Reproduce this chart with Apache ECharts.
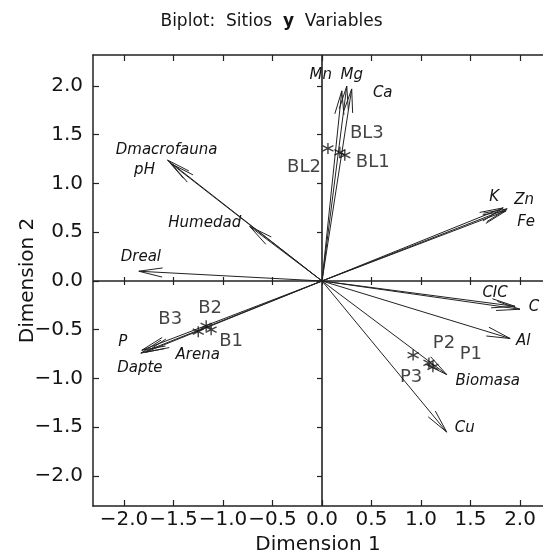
<!DOCTYPE html>
<html>
<head>
<meta charset="utf-8">
<script src="https://cdn.jsdelivr.net/npm/echarts@6/dist/echarts.min.js"></script>
<style>html,body{margin:0;padding:0;background:#fff}#c{width:543px;height:556px}</style>
</head>
<body>
<div id="c"></div>
<script>
// ---- data ----
const varNames = ['Mn','Mg','Ca','K','Zn','Fe','Dmacrofauna','pH','Humedad','Dreal','P','Dapte','Arena','CIC','C','Al','Biomasa','Cu'];
const varDim1  = [0.20, 0.25, 0.30, 1.83, 1.87, 1.86, -1.56, -1.52, -0.73, -1.85, -1.82, -1.83, -1.78, 1.95, 2.00, 1.90, 1.26, 1.26];
const varDim2  = [1.95, 2.00, 1.97, 0.75, 0.74, 0.72,  1.24,  1.20,  0.56,  0.10, -0.71, -0.74, -0.73, -0.26, -0.29, -0.59, -0.96, -1.55];

const siteNames = ['BL1','BL2','BL3','B1','B2','B3','P1','P2','P3'];
const siteDim1  = [0.23, 0.06, 0.18, -1.12, -1.17, -1.25, 1.12, 1.08, 0.92];
const siteDim2  = [1.29, 1.36, 1.32, -0.50, -0.46, -0.52, -0.88, -0.84, -0.76];

const tickValues = [-2.0, -1.5, -1.0, -0.5, 0.0, 0.5, 1.0, 1.5, 2.0];

// ---- label placement (pixel offsets from the mark) ----
const varLabelOffset = {
  Mn:[-21,-16], Mg:[5,-11], Ca:[31,4], K:[-9,-11], Zn:[17,-9], Fe:[20,11],
  Dmacrofauna:[-1,-10], pH:[-27,6], Humedad:[-45,-3], Dreal:[2,-14],
  P:[-19,-8], Dapte:[-1,15], Arena:[52,3], CIC:[-20,-13], C:[14,-2],
  Al:[13,3], Biomasa:[41,7], Cu:[18,-4]
};
const siteLabelOffset = {
  BL1:[28,7], BL2:[-24,19], BL3:[27,-19], B1:[20,12], B2:[4,-18], B3:[-28,-12],
  P1:[38,-12], P2:[15,-20], P3:[-2,22]
};

const FONT = 'DejaVu Sans';
const INK = '#141414';
const LINE = '#222222';

const fmt = v => (v < 0 ? '\u2212' : '') + Math.abs(v).toFixed(1);

const varData = varNames.map((n, i) => [varDim1[i], varDim2[i], n]);
const siteData = siteNames.map((n, i) => ({
  value: [siteDim1[i], siteDim2[i]],
  name: n,
  label: { offset: siteLabelOffset[n] }
}));

const xr = { min: -2.313, max: 2.232 };
const yr = { min: -2.308, max: 2.318 };

function xAxisDef(pos, opts) {
  return Object.assign({
    type: 'value', position: pos, min: xr.min, max: xr.max,
    splitLine: { show: false },
    axisLine: { show: false },
    axisLabel: { show: false },
    axisTick: { show: false }
  }, opts);
}
function yAxisDef(pos, opts) {
  return Object.assign({
    type: 'value', position: pos, min: yr.min, max: yr.max,
    splitLine: { show: false },
    axisLine: { show: false },
    axisLabel: { show: false },
    axisTick: { show: false }
  }, opts);
}

const tickStyle = { color: LINE, width: 1.2 };

const option = {
  animation: false,
  backgroundColor: '#fff',
  title: {
    text: '{a|Biplot:  Sitios  }{b|y}{a|  Variables}',
    left: 'center', top: 8,
    textStyle: {
      fontWeight: 'normal',
      rich: {
        a: { fontFamily: FONT, fontSize: 17, color: INK, fontWeight: 'normal' },
        b: { fontFamily: FONT, fontSize: 17, color: INK, fontWeight: 'bold' }
      }
    }
  },
  grid: { left: 93, right: 0, top: 55, bottom: 50, containLabel: false, outerBoundsMode: 'none' },
  xAxis: [
    xAxisDef('bottom', {
      name: 'Dimension 1', nameLocation: 'middle', nameGap: 27,
      nameTextStyle: { fontFamily: FONT, fontSize: 20, color: INK },
      axisLine: { show: true, onZero: false, lineStyle: { color: LINE, width: 1.5 } },
      axisTick: { show: true, inside: true, length: 6, customValues: tickValues, lineStyle: tickStyle },
      axisLabel: { show: true, customValues: tickValues, formatter: fmt, margin: 4,
                   fontFamily: FONT, fontSize: 20, color: INK }
    }),
    xAxisDef('bottom', {
      axisTick: { show: true, inside: false, length: 4, customValues: tickValues, lineStyle: tickStyle }
    }),
    xAxisDef('top', {
      axisLine: { show: true, onZero: false, lineStyle: { color: LINE, width: 1.5 } },
      axisTick: { show: true, inside: true, length: 6, customValues: tickValues, lineStyle: tickStyle }
    }),
    xAxisDef('top', {
      axisTick: { show: true, inside: false, length: 4, customValues: tickValues, lineStyle: tickStyle }
    })
  ],
  yAxis: [
    yAxisDef('left', {
      name: 'Dimension 2', nameLocation: 'middle', nameGap: 55, nameRotate: 90,
      nameMoveOverlap: false,
      nameTextStyle: { fontFamily: FONT, fontSize: 20, color: INK },
      axisLine: { show: true, onZero: false, lineStyle: { color: LINE, width: 1.5 } },
      axisTick: { show: true, inside: true, length: 6, customValues: tickValues, lineStyle: tickStyle },
      axisLabel: { show: true, customValues: tickValues, formatter: fmt, margin: 10,
                   fontFamily: FONT, fontSize: 20, color: INK }
    }),
    yAxisDef('left', {
      axisTick: { show: true, inside: false, length: 5, customValues: tickValues, lineStyle: tickStyle }
    })
  ],
  series: [
    {
      type: 'custom',
      xAxisIndex: 0, yAxisIndex: 0,
      data: varData,
      clip: false,
      silent: true,
      markLine: {
        silent: true, symbol: 'none', animation: false,
        label: { show: false },
        lineStyle: { color: LINE, width: 1.6, type: 'solid' },
        data: [{ xAxis: 0 }, { yAxis: 0 }]
      },
      renderItem: function (params, api) {
        const x = api.value(0), y = api.value(1);
        const name = varNames[params.dataIndex];
        const p0 = api.coord([0, 0]);
        const p1 = api.coord([x, y]);
        const ang = Math.atan2(p1[1] - p0[1], p1[0] - p0[0]);
        const L = 24, a = 11 * Math.PI / 180;
        const h1 = [p1[0] - L * Math.cos(ang - a), p1[1] - L * Math.sin(ang - a)];
        const h2 = [p1[0] - L * Math.cos(ang + a), p1[1] - L * Math.sin(ang + a)];
        const off = varLabelOffset[name] || [0, 0];
        return {
          type: 'group',
          children: [
            { type: 'line', shape: { x1: p0[0], y1: p0[1], x2: p1[0], y2: p1[1] },
              style: { stroke: LINE, lineWidth: 1 } },
            { type: 'polyline', shape: { points: [h1, p1, h2] },
              style: { stroke: LINE, lineWidth: 1, fill: null } },
            { type: 'text', x: p1[0] + off[0], y: p1[1] + off[1],
              style: { text: name, fontFamily: FONT, fontStyle: 'italic', fontSize: 15,
                       fill: INK, align: 'center', verticalAlign: 'middle' } }
          ]
        };
      }
    },
    {
      type: 'scatter',
      xAxisIndex: 0, yAxisIndex: 0,
      data: siteData,
      symbol: 'path://M5,0L5,10M0.67,2.5L9.33,7.5M0.67,7.5L9.33,2.5',
      symbolSize: 11,
      itemStyle: { color: 'none', borderColor: '#111', borderWidth: 1.4 },
      label: {
        show: true, position: 'inside', formatter: p => p.name,
        fontFamily: FONT, fontSize: 18, color: INK, textBorderWidth: 0,
        align: 'center', verticalAlign: 'middle'
      },
      silent: true
    }
  ]
};

const chart = echarts.init(document.getElementById('c'), null, { renderer: 'canvas' });
chart.setOption(option);
</script>
</body>
</html>
